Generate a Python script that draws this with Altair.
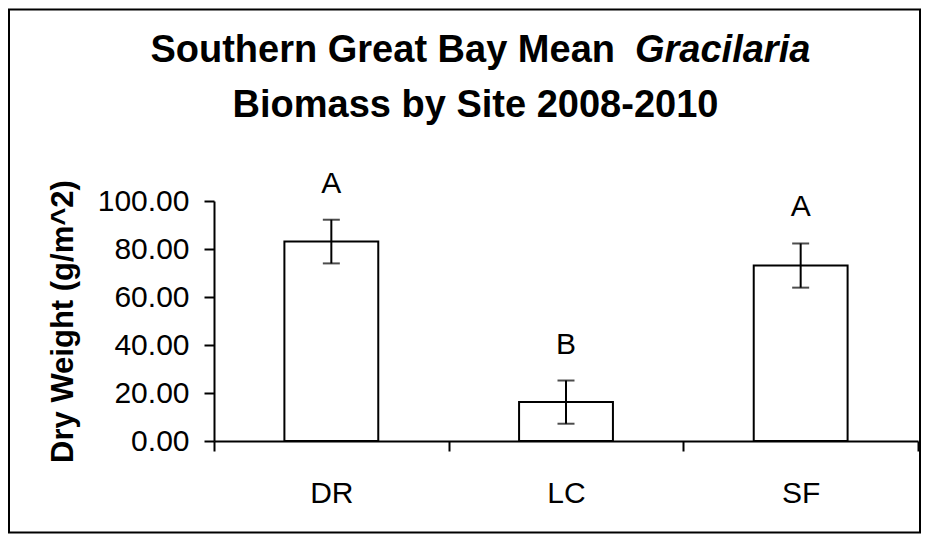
import altair as alt
import pandas as pd

# ---- data ----
sites = ["DR", "LC", "SF"]
means = [83.1, 16.2, 73.1]
errors = [9.1, 9.0, 9.2]
letters = ["A", "B", "A"]
y_ticks = [0, 20, 40, 60, 80, 100]

title_line1_a = "Southern Great Bay Mean"
title_line1_b = "Gracilaria"
title_line2 = "Biomass by Site 2008-2010"
y_title = "Dry Weight (g/m^2)"

df = pd.DataFrame({
    "site": sites,
    "mean": means,
    "err": errors,
    "letter": letters,
})
df["lower"] = df["mean"] - df["err"]
df["upper"] = df["mean"] + df["err"]

FONT = "Liberation Sans"
W, H = 704, 240

x_enc = alt.X(
    "site:N",
    sort=sites,
    scale=alt.Scale(paddingInner=0, paddingOuter=0),
    axis=alt.Axis(
        title=None, labelAngle=0, labelFontSize=30, labelFont=FONT,
        labelColor="black", tickSize=10, tickWidth=2, tickColor="black",
        domainColor="black", domainWidth=2, labelPadding=27, tickBand="extent",
    ),
)
y_scale = alt.Scale(domain=[0, 100], nice=False)

base = alt.Chart(df)

bars = base.mark_bar(
    width=alt.RelativeBandSize(0.4), fill="white", stroke="black", strokeWidth=2
).encode(
    x=x_enc,
    y=alt.Y(
        "mean:Q",
        scale=y_scale,
        axis=alt.Axis(
            title=y_title, values=y_ticks, format=".2f", grid=False,
            labelFontSize=30, labelFont=FONT, labelColor="black",
            labelPadding=15, labelBaseline="middle",
            tickSize=10, tickWidth=2, tickColor="black",
            domainColor="black", domainWidth=2,
            titleFont=FONT, titleFontSize=31, titleFontWeight="bold",
            titleColor="black", titleX=-142, titleY=120, titleAngle=270,
            titleAlign="center", titleBaseline="alphabetic",
        ),
    ),
)

err_rule = base.mark_rule(color="black", strokeWidth=2).encode(
    x=alt.X("site:N", sort=sites),
    y=alt.Y("lower:Q", scale=y_scale),
    y2="upper:Q",
)
cap_hi = base.mark_tick(color="black", thickness=2, size=17).encode(
    x=alt.X("site:N", sort=sites),
    y=alt.Y("upper:Q", scale=y_scale),
)
cap_lo = base.mark_tick(color="black", thickness=2, size=17).encode(
    x=alt.X("site:N", sort=sites),
    y=alt.Y("lower:Q", scale=y_scale),
)
letter_text = base.mark_text(
    font=FONT, fontSize=30, color="black", baseline="alphabetic", dy=-27
).encode(
    x=alt.X("site:N", sort=sites),
    y=alt.Y("upper:Q", scale=y_scale),
    text="letter:N",
)

one = alt.Chart(pd.DataFrame({"t": [title_line1_a]}))
t1a = one.mark_text(
    font=FONT, fontSize=38, fontWeight="bold", color="black",
    align="right", baseline="alphabetic"
).encode(x=alt.value(401), y=alt.value(-138.8), text=alt.value(title_line1_a))
t1b = one.mark_text(
    font=FONT, fontSize=38, fontWeight="bold", fontStyle="italic", color="black",
    align="left", baseline="alphabetic"
).encode(x=alt.value(421), y=alt.value(-138.8), text=alt.value(title_line1_b))
t2 = one.mark_text(
    font=FONT, fontSize=38, fontWeight="bold", color="black",
    align="center", baseline="alphabetic"
).encode(x=alt.value(261.5), y=alt.value(-83.8), text=alt.value(title_line2))

border = one.mark_rect(
    fill="white", fillOpacity=0, stroke="black", strokeWidth=2
).encode(
    x=alt.value(-205), x2=alt.value(706), y=alt.value(-191.5), y2=alt.value(331.5)
)

chart = alt.layer(
    border, bars, err_rule, cap_hi, cap_lo, letter_text, t1a, t1b, t2
).properties(
    width=W, height=H, padding=0, background="white"
).configure_view(stroke=None)

chart.save("out.html", embed_options={"renderer": "svg", "actions": False})
